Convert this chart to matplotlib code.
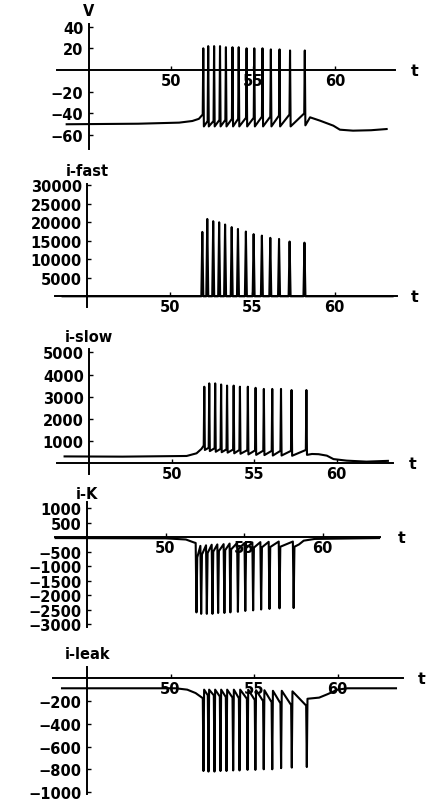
import matplotlib
matplotlib.use("Agg")
import matplotlib.pyplot as plt

# ---------------- data ----------------
spike_t = [51.97, 52.27, 52.63, 52.99, 53.35, 53.75, 54.13, 54.61,
           55.08, 55.58, 56.09, 56.62, 57.26, 58.16]

# membrane potential V
v_before_t = [43.64, 48.0, 50.5, 51.3, 51.7]
v_before = [-50, -49.5, -48.5, -47, -45]
v_pre = [-41, -47, -47, -46, -46, -45, -45, -44, -44, -43, -43, -42, -41, -40]
v_peak = [20, 22, 22, 22, 21, 21, 21, 20, 20, 20, 19, 19, 18, 18]
v_trough = [-52, -52, -52, -52, -52, -52, -52, -52, -52, -52, -52, -52, -52, -51]
v_after_t = [58.48, 59.09, 59.9, 60.3, 61.1, 62.2, 63.15]
v_after = [-43.6, -46.7, -51.3, -55, -55.9, -55.5, -54.4]

# i-fast
fast_before_t = [43.5]
fast_before = [0]
fast_base = [0, 0, 0, 0, 0, 0, 0, 0, 0, 0, 0, 0, 0, 0]
fast_peak = [17400, 20900, 20300, 20000, 19400, 18700, 18200, 17500,
             16800, 16400, 15800, 15500, 14800, 14500]
fast_after_t = [63.5]
fast_after = [0]

# i-slow
slow_before_t = [43.5, 47.0, 50.9, 51.5, 51.8]
slow_before = [310, 300, 330, 450, 650]
slow_pre = [800, 700, 680, 650, 630, 620, 600, 590, 580, 570, 560, 560, 560, 600]
slow_peak = [3450, 3600, 3600, 3550, 3500, 3500, 3450, 3450, 3400, 3350,
             3350, 3350, 3300, 3300]
slow_trough = [600, 550, 520, 500, 480, 450, 430, 400, 380, 370, 350, 350, 340, 380]
slow_after_t = [58.5, 58.9, 59.4, 59.8, 60.6, 61.8, 63.1]
slow_after = [420, 410, 345, 190, 120, 75, 110]

# i-K
k_before_t = [43.0, 50.0, 51.3, 51.8]
k_before = [-30, -40, -80, -180]
k_pre = [-200, -300, -280, -260, -250, -240, -220, -200, -200, -180, -170, -160, -150, -150]
k_bottom = [-2600, -2650, -2650, -2650, -2620, -2620, -2600, -2580, -2550,
            -2530, -2500, -2480, -2460, -2450]
k_post = [-700, -600, -550, -500, -480, -450, -420, -400, -380, -360, -350, -340, -330, -330]
k_after_t = [58.5, 58.8, 59.5, 63.6]
k_after = [-250, -120, -60, -30]

# i-leak
leak_before_t = [43.5, 50.3, 51.0, 51.5]
leak_before = [-88, -88, -100, -130]
leak_pre = [-175, -150, -150, -160, -165, -170, -175, -180, -190, -200, -210, -220, -235, -240]
leak_bottom = [-815, -820, -820, -815, -815, -810, -810, -805, -805, -800,
               -800, -790, -785, -780]
leak_post = [-100, -100, -100, -100, -100, -100, -100, -100, -105, -105, -110, -110, -115, -180]
leak_after_t = [58.9, 59.4, 60.0, 60.6, 63.5]
leak_after = [-170, -140, -100, -88, -88]

# tick labels
t_ticks = [50, 55, 60]
t_labels = ['50', '55', '60']
v_yticks = [40, 20, -20, -40, -60]
v_ylabels = ['40', '20', '\u221220', '\u221240', '\u221260']
fast_yticks = [30000, 25000, 20000, 15000, 10000, 5000]
fast_ylabels = ['30000', '25000', '20000', '15000', '10000', '5000']
slow_yticks = [5000, 4000, 3000, 2000, 1000]
slow_ylabels = ['5000', '4000', '3000', '2000', '1000']
k_yticks = [1000, 500, -500, -1000, -1500, -2000, -2500, -3000]
k_ylabels = ['1000', '500', '\u2212500', '\u22121000', '\u22121500',
             '\u22122000', '\u22122500', '\u22123000']
leak_yticks = [-200, -400, -600, -800, -1000]
leak_ylabels = ['\u2212200', '\u2212400', '\u2212600', '\u2212800', '\u22121000']
titles = ['V', 'i-fast', 'i-slow', 'i-K', 'i-leak']
x_name = 't'


def build(bt, bv, st, pre, peak, post, at, av, w):
    ts, vs = list(bt), list(bv)
    for t, a, b, c in zip(st, pre, peak, post):
        ts += [t - w, t, t + w]
        vs += [a, b, c]
    ts += list(at)
    vs += list(av)
    return ts, vs


W, H = 430, 803
plt.rcParams['font.family'] = ['DejaVu Sans']
plt.rcParams['font.weight'] = 'bold'
FS = 10.5

fig = plt.figure(figsize=(W / 100, H / 100), dpi=100)
fig.patch.set_facecolor('white')


def make_axes(left, right, top, bottom, xlim, ylim):
    ax = fig.add_axes([left / W, 1 - bottom / H, (right - left) / W, (bottom - top) / H])
    ax.set_xlim(*xlim)
    ax.set_ylim(*ylim)
    ax.patch.set_alpha(0)
    for s in ('top', 'right'):
        ax.spines[s].set_visible(False)
    ax.spines['left'].set_position(('data', 45))
    ax.spines['bottom'].set_position(('data', 0))
    for s in ('left', 'bottom'):
        ax.spines[s].set_linewidth(1.4)
    ax.tick_params(direction='in', length=3, width=1, labelsize=FS)
    ax.tick_params(axis='y', pad=4)
    ax.tick_params(axis='x', pad=2)
    return ax


panels = [
    dict(rect=(57, 395, 25, 150), xlim=(43.05, 63.66), ylim=(-72.8, 42.4),
         yt=v_yticks, yl=v_ylabels, toff=13, xoff=20,
         trace=build(v_before_t, v_before, spike_t, v_pre, v_peak, v_trough,
                     v_after_t, v_after, 0.035)),
    dict(rect=(55, 397, 185, 308), xlim=(43.04, 63.77), ylim=(-2890, 30350),
         yt=fast_yticks, yl=fast_ylabels, toff=13, xoff=18,
         trace=build(fast_before_t, fast_before, spike_t, fast_base, fast_peak,
                     fast_base, fast_after_t, fast_after, 0.06)),
    dict(rect=(57, 393, 350, 475), xlim=(43.04, 63.41), ylim=(-482, 5149),
         yt=slow_yticks, yl=slow_ylabels, toff=12, xoff=20,
         trace=build(slow_before_t, slow_before, spike_t, slow_pre, slow_peak,
                     slow_trough, slow_after_t, slow_after, 0.035)),
    dict(rect=(55, 380, 503, 628), xlim=(42.96, 63.66), ylim=(-3105, 1217),
         yt=k_yticks, yl=k_ylabels, toff=8, xoff=22,
         trace=build(k_before_t, k_before, spike_t, k_pre, k_bottom,
                     k_post, k_after_t, k_after, 0.05)),
    dict(rect=(53, 403, 668, 795), xlim=(42.96, 63.92), ylim=(-1017, 99),
         yt=leak_yticks, yl=leak_ylabels, toff=13, xoff=19,
         trace=build(leak_before_t, leak_before, spike_t, leak_pre, leak_bottom,
                     leak_post, leak_after_t, leak_after, 0.04)),
]

for p, title in zip(panels, titles):
    ax = make_axes(*p['rect'], p['xlim'], p['ylim'])
    ts, vs = p['trace']
    ax.plot(ts, vs, color='black', lw=1.5, zorder=3, clip_on=False)
    ax.set_xticks(t_ticks)
    ax.set_xticklabels(t_labels)
    ax.set_yticks(p['yt'])
    ax.set_yticklabels(p['yl'])
    ax.annotate(title, xy=(45, p['ylim'][1]), xycoords='data',
                xytext=(0, p['toff'] * 0.72), textcoords='offset points',
                ha='center', va='center', fontsize=FS, fontweight='bold')
    ax.annotate(x_name, xy=(p['xlim'][1], 0), xycoords='data',
                xytext=(p['xoff'] * 0.72, 0), textcoords='offset points',
                ha='center', va='center', fontsize=FS + 1, fontweight='bold')

fig.savefig('out.png', dpi=100, facecolor='white')
